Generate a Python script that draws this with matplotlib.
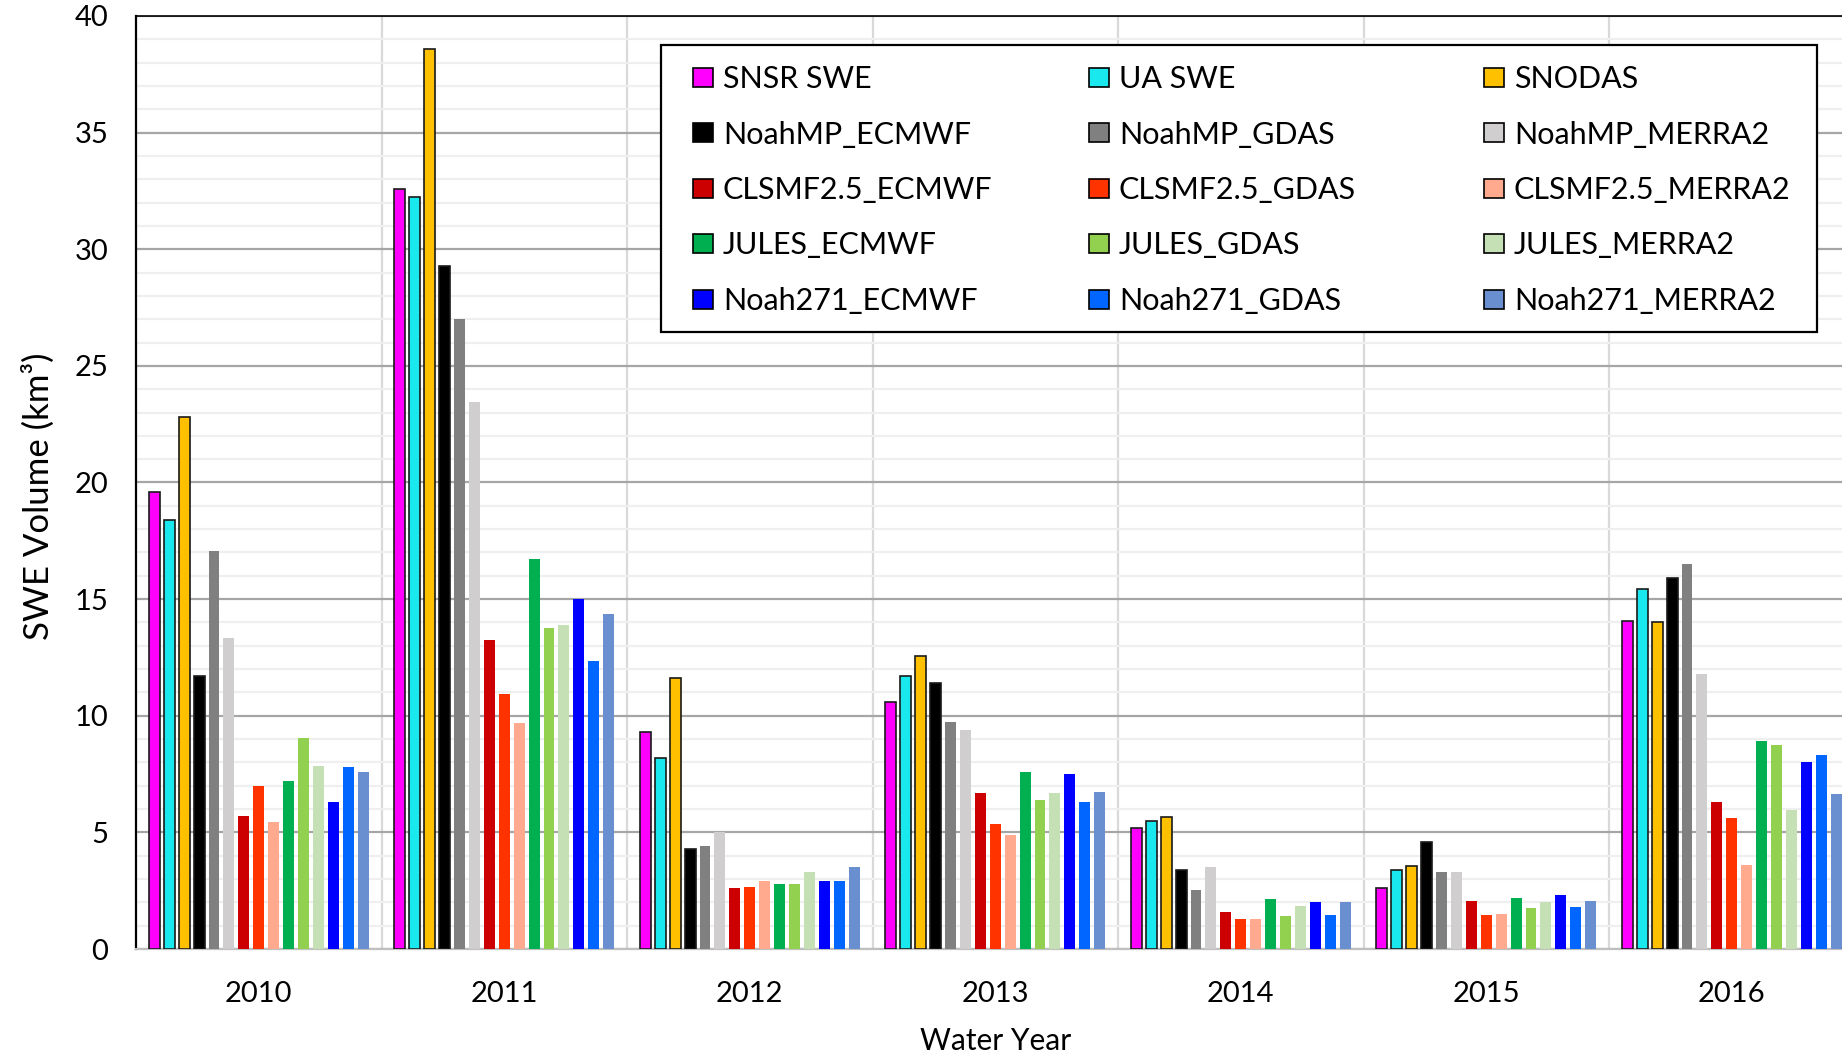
import numpy as np
import matplotlib
matplotlib.use("Agg")
import matplotlib.pyplot as plt
from matplotlib.patches import Rectangle
from matplotlib.ticker import MultipleLocator

plt.rcParams['font.family'] = ['Lato', 'DejaVu Sans']

# ---- data ----
years = ['2010', '2011', '2012', '2013', '2014', '2015', '2016']

series_names = [
    'SNSR SWE', 'UA SWE', 'SNODAS',
    'NoahMP_ECMWF', 'NoahMP_GDAS', 'NoahMP_MERRA2',
    'CLSMF2.5_ECMWF', 'CLSMF2.5_GDAS', 'CLSMF2.5_MERRA2',
    'JULES_ECMWF', 'JULES_GDAS', 'JULES_MERRA2',
    'Noah271_ECMWF', 'Noah271_GDAS', 'Noah271_MERRA2',
]

snsr_swe       = [19.6, 32.6, 9.3, 10.6, 5.2, 2.6, 14.05]
ua_swe         = [18.4, 32.25, 8.2, 11.7, 5.5, 3.4, 15.45]
snodas         = [22.8, 38.6, 11.6, 12.55, 5.65, 3.55, 14.0]
noahmp_ecmwf   = [11.7, 29.3, 4.3, 11.4, 3.4, 4.6, 15.9]
noahmp_gdas    = [17.05, 27.0, 4.4, 9.75, 2.55, 3.3, 16.5]
noahmp_merra2  = [13.35, 23.45, 5.0, 9.4, 3.5, 3.3, 11.8]
clsm_ecmwf     = [5.7, 13.25, 2.6, 6.7, 1.6, 2.05, 6.3]
clsm_gdas      = [7.0, 10.95, 2.65, 5.35, 1.3, 1.45, 5.6]
clsm_merra2    = [5.45, 9.7, 2.9, 4.9, 1.3, 1.5, 3.6]
jules_ecmwf    = [7.2, 16.7, 2.8, 7.6, 2.15, 2.2, 8.9]
jules_gdas     = [9.05, 13.75, 2.8, 6.4, 1.4, 1.75, 8.75]
jules_merra2   = [7.85, 13.9, 3.3, 6.7, 1.85, 2.0, 5.95]
noah271_ecmwf  = [6.3, 15.0, 2.9, 7.5, 2.0, 2.3, 8.0]
noah271_gdas   = [7.8, 12.35, 2.9, 6.3, 1.45, 1.8, 8.3]
noah271_merra2 = [7.6, 14.35, 3.5, 6.75, 2.0, 2.05, 6.65]

values = [snsr_swe, ua_swe, snodas,
          noahmp_ecmwf, noahmp_gdas, noahmp_merra2,
          clsm_ecmwf, clsm_gdas, clsm_merra2,
          jules_ecmwf, jules_gdas, jules_merra2,
          noah271_ecmwf, noah271_gdas, noah271_merra2]

colors = ['#FF00FF', '#19E9EE', '#FFC000',
          '#000000', '#808080', '#D0CECE',
          '#CC0000', '#FF3300', '#FFAA8E',
          '#00B050', '#92D050', '#C5E0B4',
          '#0000FF', '#0066FF', '#6A8FD0']

W, H = 1842, 1056

# ---- figure ----
fig = plt.figure(figsize=(W / 100, H / 100), dpi=100)
ax = fig.add_axes([136 / W, 1 - 949 / H, (1854.5 - 136) / W, (949 - 16) / H])

x = np.arange(len(years))
pitch = 1 / 16.45
width = 0.73 * pitch
handles = []
for k, (name, vals, col) in enumerate(zip(series_names, values, colors)):
    if k < 4:
        ec, lw = '#1a1a1a', 1.2
    else:
        ec, lw = col, 0.0
    b = ax.bar(x + (k - 7) * pitch, vals, width, color=col, edgecolor=ec,
               linewidth=lw, label=name, zorder=3)
    handles.append(b)

ax.set_xlim(-0.5, 6.5)
ax.set_ylim(0, 40)
ax.yaxis.set_major_locator(MultipleLocator(5))
ax.yaxis.set_minor_locator(MultipleLocator(1))
ax.grid(axis='y', which='major', color='#A6A6A6', linewidth=1.6, zorder=0)
ax.grid(axis='y', which='minor', color='#EFEFEF', linewidth=1.6, zorder=0)
for b in np.arange(0.5, 6.5, 1):
    ax.axvline(b, color='#D9D9D9', linewidth=1.6, zorder=0)

ax.set_xticks(x)
ax.set_xticklabels(years)
ax.tick_params(axis='x', which='both', length=0, pad=23, labelsize=21)
ax.tick_params(axis='y', which='both', length=0, pad=20, labelsize=21)

ax.spines['left'].set_color('black')
ax.spines['left'].set_linewidth(1.6)
ax.spines['top'].set_color('black')
ax.spines['top'].set_linewidth(1.2)
ax.spines['bottom'].set_color('#BFBFBF')
ax.spines['bottom'].set_linewidth(1.6)
ax.spines['right'].set_visible(False)

ax.set_ylabel('SWE Volume (km³)', fontsize=25)
ax.yaxis.set_label_coords(-0.047, 0.4855)
ax.set_xlabel('Water Year', fontsize=21.5)
ax.xaxis.set_label_coords(0.5, -0.084)

# legend: framed box with three columns, filled row by row
box = Rectangle((661 / W, 1 - 332 / H), (1817 - 661) / W, (332 - 45) / H,
                transform=fig.transFigure, facecolor='white', edgecolor='black',
                linewidth=1.6, zorder=4)
fig.add_artist(box)

col_x = [693, 1089, 1484]
for j, cx in enumerate(col_x):
    idx = [i * 3 + j for i in range(5)]
    leg = fig.legend([handles[i] for i in idx], [series_names[i] for i in idx],
                     loc='upper left', bbox_to_anchor=(cx / W, 1 - 65 / H),
                     bbox_transform=fig.transFigure, borderaxespad=0, borderpad=0,
                     fontsize=22, frameon=False,
                     handlelength=0.65, handleheight=0.6, handletextpad=0.33,
                     labelspacing=0.9)
    leg.set_zorder(5)
    for h in leg.legend_handles:
        h.set_edgecolor('black')
        h.set_linewidth(1.2)

fig.savefig('out.png', dpi=100)
